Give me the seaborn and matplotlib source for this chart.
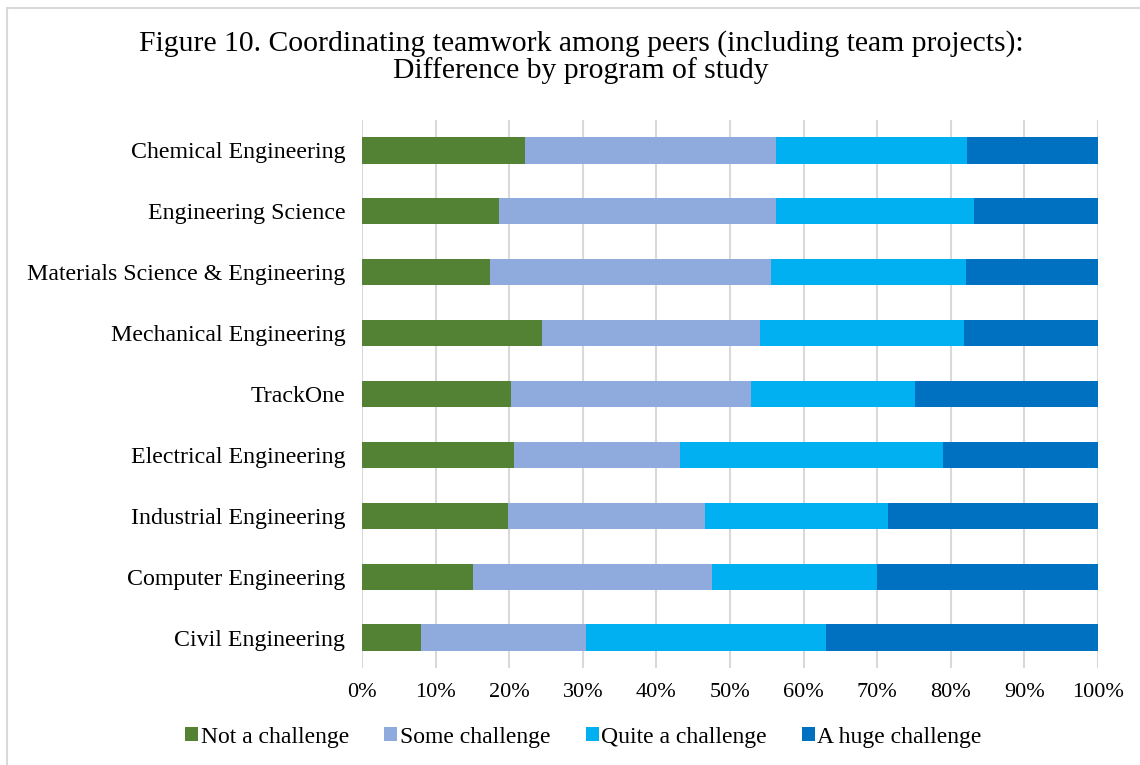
import numpy as np
import pandas as pd
import matplotlib
matplotlib.use("Agg")
import matplotlib.pyplot as plt
from matplotlib.patches import Patch, Rectangle
import seaborn as sns

programs = [
    "Chemical Engineering",
    "Engineering Science",
    "Materials Science & Engineering",
    "Mechanical Engineering",
    "TrackOne",
    "Electrical Engineering",
    "Industrial Engineering",
    "Computer Engineering",
    "Civil Engineering",
]
not_a_challenge = [22.2, 18.6, 17.4, 24.4, 20.2, 20.6, 19.8, 15.1, 8.0]
some_challenge = [34.1, 37.6, 38.2, 29.7, 32.7, 22.6, 26.8, 32.4, 22.4]
quite_a_challenge = [25.9, 27.0, 26.5, 27.7, 22.3, 35.8, 24.9, 22.5, 32.6]
huge_challenge = [17.8, 16.8, 17.9, 18.2, 24.8, 21.0, 28.5, 30.0, 37.0]

levels = ["Not a challenge", "Some challenge", "Quite a challenge", "A huge challenge"]
colors = ["#548235", "#8FAADC", "#00B0F0", "#0070C0"]
tick_labels = ["0%", "10%", "20%", "30%", "40%", "50%", "60%", "70%", "80%", "90%", "100%"]

df = pd.DataFrame({
    "program": programs,
    levels[0]: not_a_challenge,
    levels[1]: some_challenge,
    levels[2]: quite_a_challenge,
    levels[3]: huge_challenge,
})
# cumulative shares so each stacked segment ends at its running total
cum = df[levels].cumsum(axis=1)
cum["program"] = df["program"]

sns.set_theme(style="white")
plt.rcParams["font.family"] = ["Liberation Serif", "DejaVu Serif"]
plt.rcParams["text.color"] = "black"

fig = plt.figure(figsize=(11.4, 7.65), dpi=100)
ax = fig.add_axes([362 / 1140, 1 - 668 / 765, (1098 - 362) / 1140, (668 - 120) / 765])

# draw from the longest running total down so shorter ones sit on top
for level, color in reversed(list(zip(levels, colors))):
    sns.barplot(data=cum, x=level, y="program", orient="h", color=color,
                width=0.43, saturation=1, ax=ax, zorder=3, linewidth=0)

ax.set_xlim(0, 100)
ax.set_xticks(np.arange(0, 101, 10))
ax.set_xticklabels(tick_labels, fontsize=16)
ax.tick_params(axis="y", labelsize=17.2, length=0, pad=12)
ax.tick_params(axis="x", length=0, pad=11)
ax.set_xlabel("")
ax.set_ylabel("")
ax.grid(axis="x", color="#D9D9D9", linewidth=1.5, zorder=0)
ax.set_axisbelow(True)
for s in ax.spines.values():
    s.set_visible(False)
for lab in ax.get_yticklabels() + ax.get_xticklabels():
    lab.set_color("black")

fig.text(0.5095, 1 - 44 / 765, "Figure 10. Coordinating teamwork among peers (including team projects):",
         ha="center", va="center", fontsize=21.3, color="black")
fig.text(0.5095, 1 - 71 / 765, "Difference by program of study",
         ha="center", va="center", fontsize=21.3, color="black")

handles = [Patch(facecolor=c, edgecolor="none", label=l) for l, c in zip(levels, colors)]
leg = fig.legend(handles=handles, loc="center", bbox_to_anchor=(0.512, 1 - 737 / 765), ncol=4,
                 frameon=False, fontsize=17, handlelength=0.55, handleheight=0.55,
                 handletextpad=0.1, columnspacing=1.5)
for t in leg.get_texts():
    t.set_color("black")

# thin outer frame around the chart area
fig.add_artist(Rectangle((7 / 1140, -0.05), 1.2, 1 - 8 / 765 + 0.05, transform=fig.transFigure,
                         fill=False, edgecolor="#D9D9D9", linewidth=1.5))

fig.savefig("out.png", dpi=100, facecolor="white")
